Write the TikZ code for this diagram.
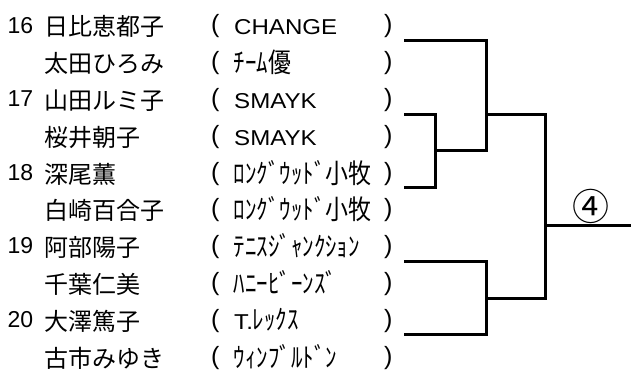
\documentclass[tikz,border=0pt]{standalone}
\usepackage{fontspec}
\setmainfont{Liberation Sans}
\newfontfamily\jp{Noto Sans CJK JP}
\newfontfamily\jpk[FakeStretch=0.85]{Noto Sans CJK JP}
\newfontfamily\teamlat[FakeStretch=1.12]{Liberation Sans}
\begin{document}
\begin{tikzpicture}[x=1pt,y=-1pt]
\tikzset{
  seed/.style={anchor=base west, inner sep=0pt, font=\fontsize{23}{26}\selectfont},
  pname/.style={anchor=base west, inner sep=0pt, font=\jp\fontsize{24}{28}\selectfont},
  team/.style={anchor=base west, inner sep=0pt, font=\fontsize{23}{26}\selectfont},
  paren/.style={anchor=base west, inner sep=0pt, font=\fontsize{25}{28}\selectfont},
  bline/.style={line width=3pt, line join=miter, line cap=butt},
  win/.style={anchor=center, inner sep=0pt, font=\jp\fontsize{37}{40}\selectfont}
}
\newcommand{\LT}[1]{{\teamlat\fontsize{21.5}{26}\selectfont #1}}
\newcommand{\KT}[1]{{\jpk\fontsize{27}{30}\selectfont #1}}
\useasboundingbox (0,0) rectangle (631,369);
% row baselines
\def\rowb#1{36+36.78*(#1-1)}
% seeds
\node[seed] (s16) at (7.5,{\rowb{1}-2.7}) {16};
\node[seed] (s17) at (7.5,{\rowb{3}-2.7}) {17};
\node[seed] (s18) at (7.5,{\rowb{5}-2.7}) {18};
\node[seed] (s19) at (7.5,{\rowb{7}-2.7}) {19};
\node[seed] (s20) at (7.5,{\rowb{9}-2.7}) {20};
% names
\node[pname] (n1) at (44,{\rowb{1}}) {日比恵都子};
\node[pname] (n2) at (44,{\rowb{2}}) {太田ひろみ};
\node[pname] (n3) at (44,{\rowb{3}}) {山田ルミ子};
\node[pname] (n4) at (44,{\rowb{4}}) {桜井朝子};
\node[pname] (n5) at (44,{\rowb{5}}) {深尾薫};
\node[pname] (n6) at (44,{\rowb{6}}) {白崎百合子};
\node[pname] (n7) at (44,{\rowb{7}}) {阿部陽子};
\node[pname] (n8) at (44,{\rowb{8}}) {千葉仁美};
\node[pname] (n9) at (44,{\rowb{9}}) {大澤篤子};
\node[pname] (n10) at (44,{\rowb{10}}) {古市みゆき};
% parentheses
\foreach \i in {1,...,10}{
  \node[paren] (lp\i) at (211,{\rowb{\i}-3}) {(};
  \node[paren] (rp\i) at (384,{\rowb{\i}-3}) {)};
}
% teams
\node[team] (t1) at (234,{\rowb{1}-1}) {\LT{CHANGE}};
\node[team] (t2) at (233.5,{\rowb{2}}) {\KT{ﾁｰﾑ優}};
\node[team] (t3) at (234,{\rowb{3}-1}) {\LT{SMAYK}};
\node[team] (t4) at (234,{\rowb{4}-1}) {\LT{SMAYK}};
\node[team] (t5) at (233.5,{\rowb{5}}) {\KT{ﾛﾝｸﾞｳｯﾄﾞ小牧}};
\node[team] (t6) at (233.5,{\rowb{6}}) {\KT{ﾛﾝｸﾞｳｯﾄﾞ小牧}};
\node[team] (t7) at (233.5,{\rowb{7}}) {\KT{ﾃﾆｽｼﾞｬﾝｸｼｮﾝ}};
\node[team] (t8) at (233.5,{\rowb{8}}) {\KT{ﾊﾆｰﾋﾞｰﾝｽﾞ}};
\node[team] (t9) at (234,{\rowb{9}-1}) {\LT{T.}\KT{ﾚｯｸｽ}};
\node[team] (t10) at (233.5,{\rowb{10}}) {\KT{ｳｨﾝﾌﾞﾙﾄﾞﾝ}};
% bracket coordinates
\coordinate (e1) at (404,40.5);
\coordinate (e2) at (404,114);
\coordinate (e3) at (404,187.5);
\coordinate (e4) at (404,261);
\coordinate (e5) at (404,334.5);
\coordinate (q1) at (486,150);
\coordinate (j1) at (435.5,150);
\coordinate (s1) at (486,114);
\coordinate (r) at (545,225);
\coordinate (s2) at (486,298);
\coordinate (out) at (631,225);
% bracket lines
\draw[bline] (e1) -| (q1) -- (j1);
\draw[bline] (e2) -| (j1) |- (e3);
\draw[bline] (s1) -| (r) |- (s2);
\draw[bline] (e4) -| (s2) |- (e5);
\draw[bline] (r) -- (out);
% winner
\node[win] (w) at (591,206) {④};
\end{tikzpicture}
\end{document}
